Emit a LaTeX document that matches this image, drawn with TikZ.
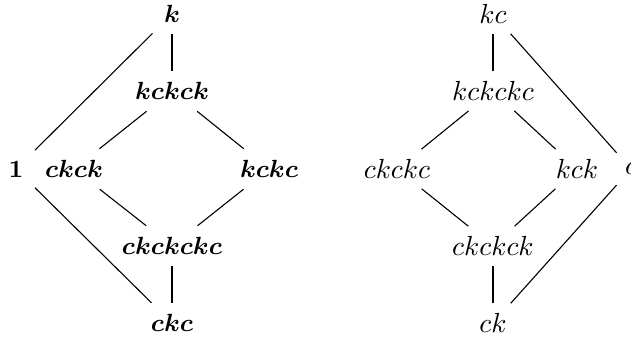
\documentclass[tikz,border=0pt]{standalone}
\usepackage{amsmath,amssymb}
\usepackage{tikz}

\begin{document}
\begin{tikzpicture}[-,thin,x=0.362pt,y=-0.362pt,node distance=27.9pt,
  main node/.style={inner sep=3.5pt},
  bold node/.style={main node,inner sep=4pt,font=\fontsize{9}{10}\selectfont\boldmath}]
  \useasboundingbox (0,0) rectangle (631,337);

  % bold lattice
  \node[bold node] (k) at (172,14) {$k$};
  \node[bold node] (kckck) [below of=k] {$kckck$};
  \node[bold node] (one) at (16,169) {$1$};
  \node[bold node] (ckck) at (74,169) {$ckck$};
  \node[bold node] (kckc) at (269,169) {$kckc$};
  \node[bold node] (ckckckc) at (172,246) {$ckckckc$};
  \node[bold node] (ckc) [below of=ckckckc] {$ckc$};

  % plain lattice
  \node[main node] (kc) at (493,14) {$kc$};
  \node[main node] (kckckc) [below of=kc] {$kckckc$};
  \node[main node] (ckckc) at (397,169) {$ckckc$};
  \node[main node] (kck) at (577,169) {$kck$};
  \node[main node] (c) at (631,169) {$c$};
  \node[main node] (ckckck) at (493,246) {$ckckck$};
  \node[main node] (ck) [below of=ckckck] {$ck$};

  \path
    (k) edge (kckck)
    (k) edge (one)
    (kckck) edge (ckck)
    (kckck) edge (kckc)
    (ckck) edge (ckckckc)
    (kckc) edge (ckckckc)
    (one) edge (ckc)
    (ckckckc) edge (ckc)

    (kc) edge (kckckc)
    (kc) edge (c)
    (kckckc) edge (ckckc)
    (kckckc) edge (kck)
    (ckckc) edge (ckckck)
    (kck) edge (ckckck)
    (c) edge (ck)
    (ckckck) edge (ck);
\end{tikzpicture}
\end{document}
